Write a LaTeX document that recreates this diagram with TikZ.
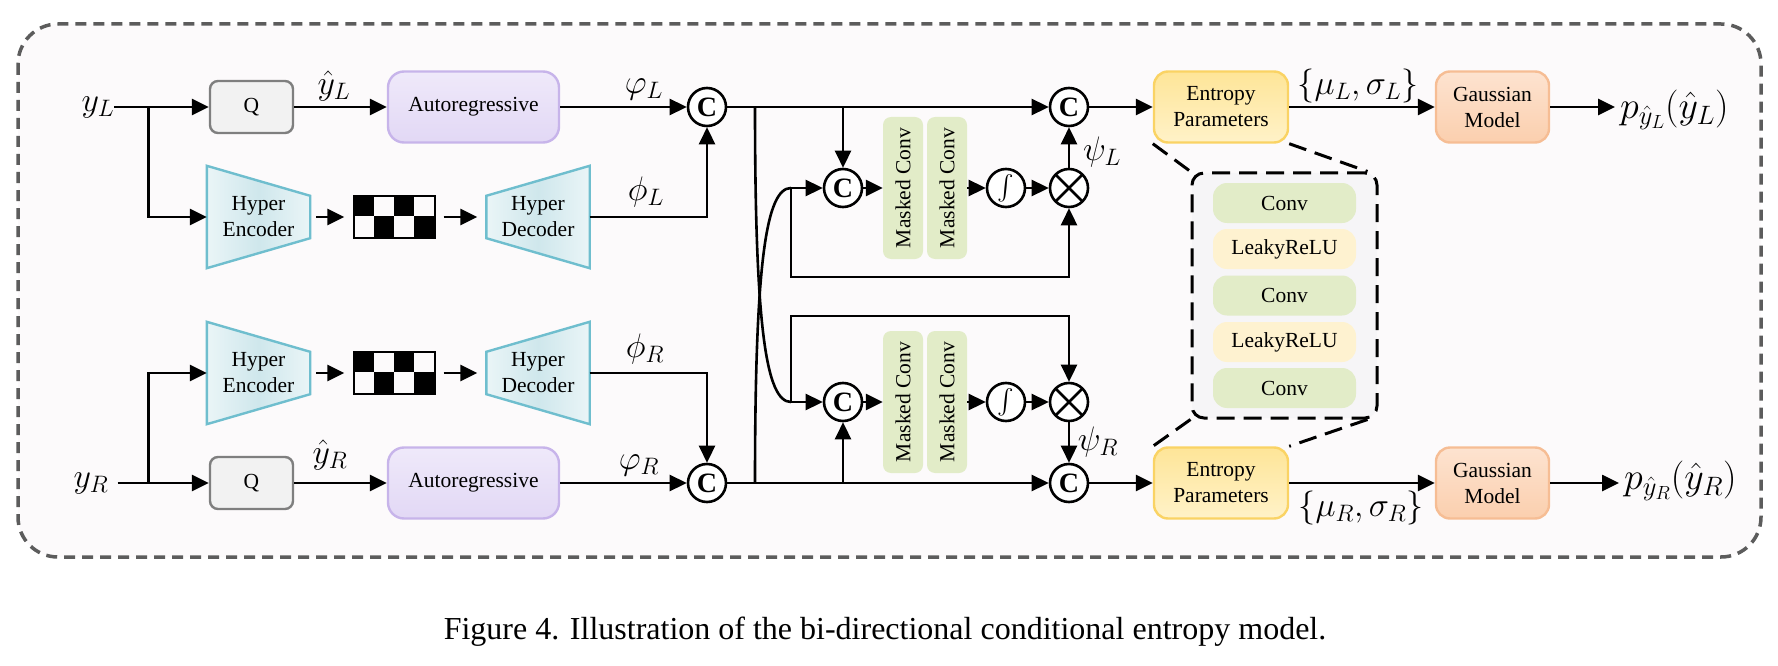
\RequirePackage{fix-cm}
\documentclass[tikz,border=0pt]{standalone}
\usepackage{exscale}
\usepackage{fontspec}
\setmainfont{Liberation Serif}
\usetikzlibrary{arrows.meta,calc,backgrounds}

\definecolor{qFill}{HTML}{F2F2F2}
\definecolor{qDraw}{HTML}{7F7F7F}
\definecolor{arTop}{HTML}{EFE9FA}
\definecolor{arBot}{HTML}{E2D8F5}
\definecolor{arDraw}{HTML}{C7B4EA}
\definecolor{hyEdge}{HTML}{EAF5F7}
\definecolor{hyMid}{HTML}{CFE7EC}
\definecolor{hyDraw}{HTML}{6FBECE}
\definecolor{mcFill}{HTML}{E2ECC8}
\definecolor{enTop}{HTML}{FEE598}
\definecolor{enBot}{HTML}{FFF2C8}
\definecolor{enDraw}{HTML}{FAD364}
\definecolor{gaTop}{HTML}{FDE3D0}
\definecolor{gaBot}{HTML}{FBCFAE}
\definecolor{gaDraw}{HTML}{F6BD94}
\definecolor{lrFill}{HTML}{FEF2D0}
\definecolor{zbFill}{HTML}{F6F5F7}
\definecolor{outFill}{HTML}{FCFAFB}
\definecolor{outDraw}{HTML}{5C5C5C}

\newcommand{\boxfont}{\fontsize{21.5}{26}\selectfont}
\newcommand{\labfont}{\fontsize{34}{34}\selectfont}
\newcommand{\plabfont}{\fontsize{38}{38}\selectfont}
\newcommand{\capfont}{\fontsize{32}{36}\selectfont}
\newcommand{\intfont}{\fontsize{30}{30}\selectfont}

\begin{document}
\begin{tikzpicture}[x=1pt,y=-1pt]
    \tikzset{conn/.style = {line width=2.6pt},
        arr/.style = {line width=2.6pt,-{Triangle[length=17pt,width=16pt]}},
        blk/.style = {rounded corners=14pt,line width=2.4pt,align=center,inner sep=0pt,font=\boxfont},
        qbox/.style = {blk,rounded corners=8pt,fill=qFill,draw=qDraw,minimum width=83pt,minimum height=52pt},
        arbox/.style = {blk,rounded corners=16pt,draw=arDraw,top color=arTop,bottom color=arBot,minimum width=171pt,minimum height=71pt},
        enbox/.style = {blk,draw=enDraw,top color=enTop,bottom color=enBot,minimum width=134pt,minimum height=71pt},
        gabox/.style = {blk,draw=gaDraw,top color=gaTop,bottom color=gaBot,minimum width=113pt,minimum height=71pt},
        hyper/.style = {align=center,inner sep=0pt,font=\boxfont,minimum width=103pt,minimum height=102pt},
        trap/.style = {line width=2.4pt,draw=hyDraw,left color=hyEdge,right color=hyEdge,middle color=hyMid},
        mconv/.style = {rounded corners=8pt,fill=mcFill,rotate=90,inner sep=0pt,minimum width=142pt,minimum height=40pt,font=\boxfont},
        convbox/.style = {rounded corners=14pt,inner sep=0pt,minimum width=143pt,minimum height=40pt,font=\boxfont},
        op/.style = {circle,draw,line width=2.6pt,fill=white,minimum size=38pt,inner sep=0pt},
        cat/.style = {op,font=\bfseries\fontsize{28}{28}\selectfont},
        mul/.style = {op,path picture={\draw[line width=2.6pt] (path picture bounding box.center) +(45:19pt) -- +(225:19pt) +(135:19pt) -- +(-45:19pt);}},
        lbl/.style = {inner sep=0pt,font=\labfont},
        chk/.style = {draw,line width=1.4pt,inner sep=0pt,minimum width=81pt,minimum height=42pt},
        zoomline/.style = {line width=3pt,dash pattern=on 18pt off 9pt}}
    \useasboundingbox (0,0) rectangle (1778,666);
    \begin{scope}[on background layer]
        \fill[white] (0,0) rectangle (1778,666);
        \draw[line width=3.5pt,draw=outDraw,fill=outFill,dash pattern=on 11pt off 7pt,rounded corners=40pt] (18,24) rectangle (1761,557);
    \end{scope}

    % left view
    \node[lbl] (yL) at (98,107) {$y_L$};
    \node[qbox] (qL) at (251.5,107) {Q};
    \node[lbl] (yhL) at (334,86) {$\hat{y}_L$};
    \node[arbox] (arL) at (473.5,107) {Autoregressive};
    \node[lbl] (vpL) at (644,89) {$\varphi_L$};
    \node[cat] (c1L) at (707,107) {C};
    \node[hyper] (encL) at (258.5,217) {Hyper\\Encoder};
    \node[chk] (chkL) at (394.5,217) {};
    \node[hyper] (decL) at (538,217) {Hyper\\Decoder};
    \node[lbl] (phL) at (646,192) {$\phi_L$};
    \coordinate (brL) at (148.5,107);

    % right view
    \node[lbl] (yR) at (91,483) {$y_R$};
    \node[qbox] (qR) at (251.5,483) {Q};
    \node[lbl] (yhR) at (330,455) {$\hat{y}_R$};
    \node[arbox] (arR) at (473.5,483) {Autoregressive};
    \node[lbl] (vpR) at (639,465) {$\varphi_R$};
    \node[cat] (c1R) at (707,483) {C};
    \node[hyper] (encR) at (258.5,373) {Hyper\\Encoder};
    \node[chk] (chkR) at (394.5,373) {};
    \node[hyper] (decR) at (538,373) {Hyper\\Decoder};
    \node[lbl] (phR) at (645,349) {$\phi_R$};
    \coordinate (brR) at (148.5,483);

    \begin{scope}[on background layer]
        \draw[trap] (encL.north west) -- ($(encL.north east)+(0,30)$) -- ($(encL.south east)+(0,-30)$) -- (encL.south west) -- cycle;
        \draw[trap] ($(decL.north west)+(0,30)$) -- (decL.north east) -- (decL.south east) -- ($(decL.south west)+(0,-30)$) -- cycle;
        \draw[trap] (encR.north west) -- ($(encR.north east)+(0,30)$) -- ($(encR.south east)+(0,-30)$) -- (encR.south west) -- cycle;
        \draw[trap] ($(decR.north west)+(0,30)$) -- (decR.north east) -- (decR.south east) -- ($(decR.south west)+(0,-30)$) -- cycle;
    \end{scope}
    \foreach \b in {chkL,chkR} {
        \foreach \i in {0,2} {
            \fill ($(\b.north west)+(\i*20.25,0)$) rectangle ++(20.25,21);
            \fill ($(\b.north west)+(\i*20.25+20.25,21)$) rectangle ++(20.25,21);
        }
    }

    % cross attention
    \node[cat] (c2L) at (843,188) {C};
    \node[mconv] (mc1L) at (903,188) {Masked Conv};
    \node[mconv] (mc2L) at (947,188) {Masked Conv};
    \node[op,font=\intfont] (intL) at (1006,188) {$\int$};
    \node[mul] (oxL) at (1069,188) {};
    \node[cat] (c3L) at (1069,107) {C};
    \node[lbl] (psL) at (1102,152) {$\psi_L$};
    \node[cat] (c2R) at (843,402) {C};
    \node[mconv] (mc1R) at (903,402) {Masked Conv};
    \node[mconv] (mc2R) at (947,402) {Masked Conv};
    \node[op,font=\intfont] (intR) at (1006,402) {$\int$};
    \node[mul] (oxR) at (1069,402) {};
    \node[cat] (c3R) at (1069,483) {C};
    \node[lbl] (psR) at (1098,442) {$\psi_R$};
    \coordinate (bL) at (755,107);
    \coordinate (bR) at (755,483);
    \coordinate (jL) at (791,188);
    \coordinate (jR) at (791,402);

    % entropy parameters
    \node[enbox] (enL) at (1221,107) {Entropy\\Parameters};
    \node[gabox] (gaL) at (1492.5,107) {Gaussian\\Model};
    \node[lbl] (msL) at (1358,86) {$\{\mu_L,\sigma_L\}$};
    \node[lbl,font=\plabfont,anchor=west] (pL) at (1620,110) {$p_{\hat{y}_L}(\hat{y}_L)$};
    \node[enbox] (enR) at (1221,483) {Entropy\\Parameters};
    \node[gabox] (gaR) at (1492.5,483) {Gaussian\\Model};
    \node[lbl] (msR) at (1361,508) {$\{\mu_R,\sigma_R\}$};
    \node[lbl,font=\plabfont,anchor=west] (pR) at (1624,481) {$p_{\hat{y}_R}(\hat{y}_R)$};

    \node[draw,line width=3pt,dash pattern=on 18pt off 9pt,fill=zbFill,rounded corners=12pt,minimum width=185pt,minimum height=245pt] (zbox) at (1284.5,295.5) {};
    \node[convbox,fill=mcFill] (cv1) at (1284.5,203) {Conv};
    \node[convbox,fill=lrFill] (lr1) at (1284.5,249) {LeakyReLU};
    \node[convbox,fill=mcFill] (cv2) at (1284.5,295.5) {Conv};
    \node[convbox,fill=lrFill] (lr2) at (1284.5,342) {LeakyReLU};
    \node[convbox,fill=mcFill] (cv3) at (1284.5,388) {Conv};

    % connections
    \draw[arr] (yL) -- (qL);
    \draw[arr] (brL) |- (encL);
    \draw[arr] (qL) -- (arL);
    \draw[arr] (arL) -- (c1L);
    \draw[arr,shorten <=6pt,shorten >=9pt] (encL) -- (chkL);
    \draw[arr,shorten <=8pt,shorten >=9pt] (chkL) -- (decL);
    \draw[arr] (decL) -| (c1L);
    \draw[arr,shorten <=9pt] (yR) -- (qR);
    \draw[arr] (brR) |- (encR);
    \draw[arr] (qR) -- (arR);
    \draw[arr] (arR) -- (c1R);
    \draw[arr,shorten <=6pt,shorten >=9pt] (encR) -- (chkR);
    \draw[arr,shorten <=8pt,shorten >=9pt] (chkR) -- (decR);
    \draw[arr] (decR) -| (c1R);

    \draw[arr] (c1L) -- (c3L);
    \draw[arr] (c2L |- c1L) -- (c2L);
    \draw[conn] (bL) .. controls +(0,220) and +(-25,0) .. (jR);
    \draw[arr] (jL) -- (c2L);
    \draw[arr] (c2L) -- (mc1L);
    \draw[arr] (mc2L) -- (intL);
    \draw[arr] (intL) -- (oxL);
    \draw[arr] (oxL) -- (c3L);
    \draw[arr] (jL) -- ++(0,89) -| (oxL);
    \draw[arr] (c1R) -- (c3R);
    \draw[arr] (c2R |- c1R) -- (c2R);
    \draw[conn] (bR) .. controls +(0,-220) and +(-25,0) .. (jL);
    \draw[arr] (jR) -- (c2R);
    \draw[arr] (c2R) -- (mc1R);
    \draw[arr] (mc2R) -- (intR);
    \draw[arr] (intR) -- (oxR);
    \draw[arr] (oxR) -- (c3R);
    \draw[arr] (jR) -- ++(0,-86) -| (oxR);

    \draw[arr] (c3L) -- (enL);
    \draw[arr] (enL) -- (gaL);
    \draw[arr,shorten >=5pt] (gaL) -- (gaL -| pL.west);
    \draw[arr] (c3R) -- (enR);
    \draw[arr] (enR) -- (gaR);
    \draw[arr,shorten >=5pt] (gaR) -- (gaR -| pR.west);

    \draw[zoomline] (enL.south west) -- (zbox.north west);
    \draw[zoomline] (enL.south east) -- ([xshift=-11pt]zbox.north east);
    \draw[zoomline] (zbox.south west) -- (enR.north west);
    \draw[zoomline] ([xshift=-11pt]zbox.south east) -- (enR.north east);

    \node[font=\capfont,anchor=base] (cap) at (885,639) {Figure 4. Illustration of the bi-directional conditional entropy model.};
\end{tikzpicture}
\end{document}
